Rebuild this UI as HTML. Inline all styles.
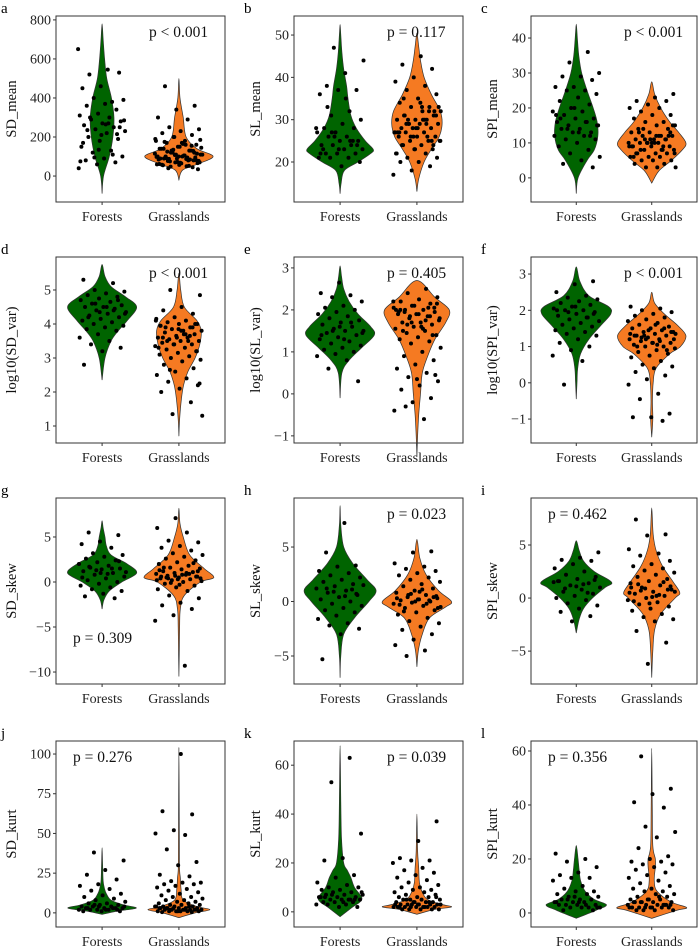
<!DOCTYPE html>
<html><head><meta charset="utf-8"><style>
html,body{margin:0;padding:0;background:#fff;}
svg{display:block;}
svg text{font-family:"Liberation Serif","Times New Roman",serif;}
</style></head><body>
<svg id="fig" width="700" height="948" viewBox="0 0 700 948" font-family="Liberation Serif, serif"></svg>
<script>
// ---------- data ----------
const groups=["Forests","Grasslands"];
// panel a SD_mean
const a_F_y=[-90,0,100,200,300,400,500,600,700,780];
const a_F_w=[0,0.04,0.2,0.3,0.33,0.26,0.13,0.07,0.03,0];
const a_G_y=[-20,30,60,100,140,200,300,400,500];
const a_G_w=[0,0.1,0.5,0.95,0.5,0.2,0.12,0.03,0];
const a_F_p=[650,545,520,530,460,450,380,400,390,370,360,340,320,310,300,290,280,270,260,250,240,230,220,200,190,180,150,130,120,100,90,80,70,60,40,270,300,250,210,170,110,95,285,265,235,215,135,75];
const a_G_p=[460,360,340,300,290,250,240,230,220,210,200,190,180,170,160,150,140,130,120,110,100,90,80,70,60,50,40,35,150,140,130,120,110,105,100,95,90,85,80,75,70,65,55,45,200,180,160,125,115,100,90,85,130,145,165,175,120,110,100,95,88,78,68,58,155,135,115,105,92,82,72,62,52,48,185,170,140,128,108,98,87,77,66,57];
// panel b SL_mean
const b_F_y=[12.5,15,18,20,22,23,25,28,31,35,38,42,46,50,52.5];
const b_F_w=[0,0.03,0.12,0.5,0.85,0.92,0.7,0.45,0.3,0.22,0.18,0.1,0.05,0.02,0];
const b_G_y=[13,16,20,23,26,29,32,36,40,44,48,50.5];
const b_G_w=[0,0.05,0.2,0.4,0.62,0.7,0.65,0.4,0.2,0.1,0.04,0];
const b_F_p=[47,44,41,38,37,37,36,32,31,30,29,28,28,27,27,26,26,25,25,24,24,24,23,23,22,22,22,21,21,21,20,19,23,25,26,28,35,33,24,23,22,25,27];
const b_G_p=[45,43,42,40,39,38,37,36,35,34,33,33,32,32,31,31,30,30,30,29,29,29,28,28,28,27,27,27,26,26,26,25,25,25,24,24,23,23,22,22,21,21,20,20,19,18,17,30,31,32,28,27,26,29,33,34,24,25,26,27,30,29,31,28,27,32,26,25,33,35,24,23,22,29,30];
// panel c SPI_mean
const c_F_y=[-4.5,0,5,8,12,16,20,25,30,35,40,44];
const c_F_w=[0,0.05,0.3,0.5,0.6,0.58,0.47,0.3,0.15,0.07,0.03,0];
const c_G_y=[-1.5,2,5,8,10,13,16,20,24,27.5];
const c_G_w=[0,0.2,0.55,0.85,0.95,0.75,0.5,0.25,0.08,0];
const c_F_p=[36,33,30,29,29,28,26,26,25,25,24,23,22,21,20,19,19,18,17,17,16,16,15,15,14,14,13,13,12,12,11,11,10,9,8,7,6,5,4,3,20,18,16,14,15,13,17,12];
const c_G_p=[24,23,22,22,21,20,20,19,18,18,17,16,16,15,15,14,14,13,13,12,12,12,11,11,11,10,10,10,10,9,9,9,8,8,8,7,7,7,6,6,6,5,5,5,4,4,3,3,3,13,12,11,9,8,14,15,10,7,11,10,9,12,8,13,10,6,9,11,7,12];
// panel d log10(SD_var)
const d_F_y=[2.35,3,3.5,3.8,4.1,4.5,4.8,5.1,5.4,5.75];
const d_F_w=[0,0.08,0.25,0.45,0.7,0.96,0.65,0.25,0.08,0];
const d_G_y=[0.7,1.2,1.8,2.2,2.6,3,3.4,3.8,4.1,4.5,5,5.5];
const d_G_w=[0,0.02,0.07,0.13,0.25,0.45,0.58,0.62,0.5,0.15,0.05,0];
const d_F_p=[5.3,5.2,5,4.95,4.9,4.85,4.8,4.75,4.7,4.65,4.6,4.55,4.5,4.5,4.45,4.4,4.35,4.3,4.25,4.2,4.15,4.1,4.05,4,3.95,3.9,3.85,3.8,3.7,3.6,3.5,3.4,3.3,3.2,2.8,4.4,4.6,4.3,4.5,4.2,4.7,4.35];
const d_G_p=[5,4.85,4.5,4.4,4.3,4.2,4.15,4.1,4.05,4,4,3.95,3.9,3.85,3.8,3.8,3.75,3.7,3.65,3.6,3.6,3.55,3.5,3.5,3.45,3.4,3.4,3.35,3.3,3.25,3.2,3.15,3.1,3.05,3,2.95,2.9,2.8,2.7,2.6,2.5,2.4,2.3,2.2,2.1,2,1.7,1.35,1.3,3.7,3.9,4,3.6,3.3,3.5,2.65,2.25,3.8,3.6,3.9,3.4,4.1,3.7,3.5,3.2,3.85,3.95,3.65];
// panel e log10(SL_var)
const e_F_y=[-0.1,0.5,0.8,1.1,1.4,1.6,1.9,2.2,2.5,2.8,3.05];
const e_F_w=[0,0.05,0.25,0.6,0.95,0.85,0.5,0.25,0.1,0.04,0];
const e_G_y=[-1.5,-1,-0.5,0,0.5,0.9,1.3,1.7,2,2.3,2.7];
const e_G_w=[0,0.02,0.05,0.1,0.15,0.3,0.5,0.8,0.9,0.5,0];
const e_F_p=[2.65,2.4,2.35,2.3,2.2,2.1,2.05,2,1.95,1.9,1.85,1.8,1.75,1.7,1.65,1.6,1.55,1.5,1.5,1.45,1.4,1.35,1.3,1.25,1.2,1.15,1.1,1.05,1,0.95,0.9,0.8,0.6,0.3,1.6,1.4,1.7,1.5,1.45,1.3];
const e_G_p=[2.5,2.4,2.3,2.25,2.2,2.15,2.1,2.05,2,2,1.95,1.9,1.9,1.85,1.8,1.75,1.7,1.7,1.65,1.6,1.55,1.5,1.45,1.4,1.35,1.3,1.25,1.2,1.1,1,0.9,0.8,0.7,0.6,0.5,0.4,0.3,0.2,0.1,-0.1,-0.2,-0.4,-0.6,-0.3,0.45,0.35,1.95,2.05,1.85,1.8,1.6,1.5,1.4,2.1,2,1.75,1.65,2.15,1.9,2.0,1.85,1.7,2.2,1.55,1.95,2.05];
// panel f log10(SPI_var)
const f_F_y=[-0.45,0,0.4,0.8,1.2,1.6,1.9,2.1,2.4,2.8,3.2];
const f_F_w=[0,0.02,0.04,0.12,0.35,0.7,0.96,0.9,0.35,0.1,0];
const f_G_y=[-1.5,-1,-0.5,0,0.4,0.8,1,1.3,1.6,1.9,2.2,2.5];
const f_G_w=[0,0.03,0.02,0.04,0.12,0.5,0.8,0.95,0.7,0.35,0.08,0];
const f_F_p=[2.8,2.72,2.5,2.4,2.35,2.3,2.25,2.2,2.15,2.1,2.05,2,2,1.95,1.9,1.85,1.8,1.75,1.7,1.65,1.6,1.55,1.5,1.45,1.4,1.35,1.3,1.2,1.1,1,0.9,0.75,0.6,-0.05,1.9,2.1,2.0,1.8,1.95];
const f_G_p=[2.1,2.05,2,1.95,1.9,1.85,1.8,1.75,1.7,1.65,1.6,1.55,1.5,1.5,1.45,1.4,1.4,1.35,1.3,1.3,1.25,1.2,1.2,1.15,1.1,1.1,1.05,1,1,0.95,0.9,0.85,0.8,0.75,0.7,0.6,0.5,0.45,0.4,0.3,0.2,0.1,-0.05,-0.3,-0.45,-0.85,-0.95,-0.95,-1.05,1.3,1.2,1.6,1.0,0.9,1.45,1.35,1.15,1.25,1.4,1.1,1.3,1.5,1.2,1.35,1.05];
// panel g SD_skew
const g_F_y=[-3,-2,-1,0,1,2,3,4,5,6,6.8];
const g_F_w=[0,0.05,0.2,0.55,0.96,0.7,0.25,0.12,0.08,0.03,0];
const g_G_y=[-10.5,-8,-5,-3,-1.5,0,0.5,1.5,3,5,6.5,8.2];
const g_G_w=[0,0.01,0.02,0.04,0.15,0.6,0.97,0.7,0.3,0.12,0.03,0];
const g_F_p=[5.5,5.2,4.5,4.2,3.8,3.2,3,2.8,2.6,2.4,2.2,2,1.8,1.6,1.5,1.4,1.2,1,0.8,0.6,0.4,0.2,0,-0.2,-0.4,-0.6,-0.8,-1,-1.3,-1.6,-1.8,1.3,1.1,0.9,1.7,2.3,1.0,0.5,1.5];
const g_G_p=[7.1,6,5.5,4.6,4.4,4,3.8,3.5,3.2,3,2.8,2.6,2.4,2.2,2,1.8,1.6,1.5,1.4,1.2,1.1,1,0.9,0.8,0.7,0.6,0.5,0.4,0.3,0.2,0.1,0,-0.2,-0.4,-0.6,-0.8,-1,-1.5,-1.8,-2.3,-2.6,-3,-3.7,-4.3,-9.3,0.5,0.6,0.3,1.3,0.9,-0.1,0.4,0.8,1.6,2.1,0.7,0.2,1.0,0.4,1.2,-0.3,0.6];
// panel h SL_skew
const h_F_y=[-7,-5,-3,-1.5,0,1,2,3.5,5,7,8.8];
const h_F_w=[0,0.02,0.1,0.4,0.8,1.0,0.75,0.35,0.1,0.02,0];
const h_G_y=[-6,-4.5,-3,-1.5,-0.5,0,1,2.5,4,5.7];
const h_G_w=[0,0.04,0.15,0.35,0.8,0.96,0.6,0.25,0.08,0];
const h_F_p=[7.2,4.5,3.3,3.2,2.8,2.6,2.4,2.2,2,1.8,1.6,1.4,1.2,1,0.8,0.6,0.4,0.2,0,-0.2,-0.4,-0.6,-0.8,-1,-1.3,-1.6,-2,-2.2,-2.5,-3,-5.3,1.1,0.9,1.5,0.5,1.2,0.7];
const h_G_p=[4.6,4.5,3.5,3.2,3,2.8,2.6,2.4,2.2,2,1.8,1.6,1.4,1.2,1,0.8,0.6,0.4,0.3,0.2,0.1,0,-0.1,-0.2,-0.4,-0.6,-0.8,-1,-1.2,-1.5,-1.8,-2,-2.3,-2.6,-3,-3.5,-4,-4.5,-5,0.5,0.2,-0.3,0.1,0.7,-0.5,1.1,-0.9,0.4,0.0,0.3,-0.2,0.6,-0.6,0.9];
// panel i SPI_skew
const i_F_y=[-3.3,-2,-1,0,1,1.5,2.5,3.5,4.5,5.4];
const i_F_w=[0,0.08,0.2,0.45,0.8,0.98,0.5,0.2,0.08,0];
const i_G_y=[-7.5,-5,-3,-1.5,0,0.5,1.5,3,4.5,6,8.5];
const i_G_w=[0,0.03,0.08,0.25,0.65,0.78,0.6,0.3,0.12,0.04,0];
const i_F_p=[4.3,3.8,3.6,3.5,3.2,2.8,2.5,2.2,2,1.8,1.6,1.4,1.2,1,0.8,0.6,0.4,0.2,0,-0.2,-0.5,-0.7,-1,-1.3,-1.7,-2.2,1.5,1.3,0.9,1.7,1.1,1.6,0.5];
const i_G_p=[7.4,6,5.9,4.6,4.2,4,3.5,3.2,3,2.8,2.6,2.4,2.2,2,1.8,1.6,1.4,1.2,1,0.8,0.6,0.4,0.2,0,-0.2,-0.4,-0.6,-0.8,-1,-1.2,-1.5,-1.8,-2,-2.2,-3.1,-4.2,-6.2,0.5,0.3,0.7,1.1,0.1,-0.3,1.5,0.9,0.6,0.2,1.3,0.8,-0.5,1.0];
// panel j SD_kurt
const j_F_y=[-1,1,3,5,8,12,15,20,30,41];
const j_F_w=[0,0.4,0.95,0.6,0.25,0.12,0.07,0.03,0.015,0];
const j_G_y=[-3,0,2,4,8,15,22,30,60,104];
const j_G_w=[0,0.45,0.86,0.5,0.12,0.06,0.04,0.015,0.01,0];
const j_F_p=[38,33,27,24,21,18,17,15,14,12,11,10,9,8,7,6,6,5,5,4,4,4,3,3,3,3,2,2,2,2,1,1,1,3,5,4,2,3,2,4];
const j_G_p=[100,64,62,52,50,49,40,32,30,24,23,20,19,19,18,18,17,16,15,14,13,12,11,10,10,9,8,8,7,7,6,6,5,5,5,4,4,4,4,3,3,3,3,3,2,2,2,2,2,2,1,1,1,1,1,1,0.5,0.5,3,4,2,3,2,1,3,4,2];
// panel k SL_kurt
const k_F_y=[-2,2,4,6,10,14,17,20,30,45,68];
const k_F_w=[0,0.35,0.55,0.6,0.4,0.3,0.2,0.1,0.04,0.02,0];
const k_G_y=[-1,1,2,3,5,8,12,18,25,40];
const k_G_w=[0,0.5,0.96,0.7,0.3,0.15,0.07,0.05,0.02,0];
const k_F_p=[63,53,32,22,21,15,14,12,11,10,10,9,9,8,8,7,7,7,6,6,6,5,5,5,5,4,4,4,3,3,3,2,2,6,5,7,8,4,6,5];
const k_G_p=[37,29,22,21,21,20,18,17,16,15,14,13,12,11,10,10,9,9,8,8,7,7,6,6,6,5,5,5,5,4,4,4,4,3,3,3,3,3,3,2,2,2,2,2,2,2,1,1,1,1,1,4,3,2,5,6,3,2,4,2,3];
// panel l SPI_kurt
const l_F_y=[-2,1,3,5,8,12,16,20,25];
const l_F_w=[0,0.55,0.84,0.5,0.25,0.12,0.08,0.05,0];
const l_G_y=[-2,1,2,4,8,12,17,20,25,40,61];
const l_G_w=[0,0.7,0.97,0.55,0.15,0.07,0.1,0.1,0.03,0.015,0];
const l_F_p=[22,20,19,17,15,14,13,13,12,10,9,8,8,7,7,6,6,5,5,5,4,4,4,3,3,3,3,2,2,2,2,1,1,6,4,3,5,2,4];
const l_G_p=[58,46,44,41,39,32,30,28,24,21,20,19,19,18,18,17,16,15,14,13,12,11,10,9,9,8,8,7,7,6,6,5,5,5,4,4,4,4,3,3,3,3,2,2,2,2,2,1,1,1,1,3,5,2,6,4,3,2,4,3,2];
// titles, p-values, ticks, y-domains
const titles=["SD_mean","SL_mean","SPI_mean","log10(SD_var)","log10(SL_var)","log10(SPI_var)","SD_skew","SL_skew","SPI_skew","SD_kurt","SL_kurt","SPI_kurt"];
const pvals=["p < 0.001","p = 0.117","p < 0.001","p < 0.001","p = 0.405","p < 0.001","p = 0.309","p = 0.023","p = 0.462","p = 0.276","p = 0.039","p = 0.356"];
const ticks=[[0,200,400,600,800],[20,30,40,50],[0,10,20,30,40],[1,2,3,4,5],[-1,0,1,2,3],[-1,0,1,2,3],[-10,-5,0,5],[-5,0,5],[-5,0,5],[0,25,50,75,100],[0,20,40,60],[0,20,40,60]];
const ydom=[[-133,820],[10.55,54.5],[-6.9,46.3],[0.5,5.97],[-1.17,3.26],[-1.66,3.47],[-11.33,9.33],[-7.57,9.5],[-8.1,9.43],[-8.9,108.2],[-6.2,69.9],[-5.2,63.7]];
const letters=["a","b","c","d","e","f","g","h","i","j","k","l"];
const shapes=[[a_F_y,a_F_w,a_G_y,a_G_w],[b_F_y,b_F_w,b_G_y,b_G_w],[c_F_y,c_F_w,c_G_y,c_G_w],[d_F_y,d_F_w,d_G_y,d_G_w],[e_F_y,e_F_w,e_G_y,e_G_w],[f_F_y,f_F_w,f_G_y,f_G_w],[g_F_y,g_F_w,g_G_y,g_G_w],[h_F_y,h_F_w,h_G_y,h_G_w],[i_F_y,i_F_w,i_G_y,i_G_w],[j_F_y,j_F_w,j_G_y,j_G_w],[k_F_y,k_F_w,k_G_y,k_G_w],[l_F_y,l_F_w,l_G_y,l_G_w]];
const points=[[a_F_p,a_G_p],[b_F_p,b_G_p],[c_F_p,c_G_p],[d_F_p,d_G_p],[e_F_p,e_G_p],[f_F_p,f_G_p],[g_F_p,g_G_p],[h_F_p,h_G_p],[i_F_p,i_G_p],[j_F_p,j_G_p],[k_F_p,k_G_p],[l_F_p,l_G_p]];

// ---------- layout ----------
const NS="http://www.w3.org/2000/svg";
const svg=document.getElementById("fig");
const colL=[56,294,531], colW=[169,169,166], rowT=[16,257,498,741], PH=186;
const pLeftPanels=[6,8,9,11];
const pYoff={6:145};
const fills=["#006400","#f57a22"];
const FF="Liberation Serif, Times New Roman, serif";
function mk(tag,attrs,parent){const e=document.createElementNS(NS,tag);for(const k in attrs)e.setAttribute(k,attrs[k]);if(tag==="text")e.setAttribute("font-family",FF);(parent||svg).appendChild(e);return e;}
function fmt(v){return v<0?"\u2212"+Math.abs(v):String(v);}
function catmull(pts){
  let d="M"+pts[0][0].toFixed(2)+","+pts[0][1].toFixed(2);
  for(let i=0;i<pts.length-1;i++){
    const p0=pts[Math.max(0,i-1)],p1=pts[i],p2=pts[i+1],p3=pts[Math.min(pts.length-1,i+2)];
    const c1=[p1[0]+(p2[0]-p0[0])/6,p1[1]+(p2[1]-p0[1])/6];
    const c2=[p2[0]-(p3[0]-p1[0])/6,p2[1]-(p3[1]-p1[1])/6];
    d+="C"+c1[0].toFixed(2)+","+c1[1].toFixed(2)+" "+c2[0].toFixed(2)+","+c2[1].toFixed(2)+" "+p2[0].toFixed(2)+","+p2[1].toFixed(2);
  }
  return d+"Z";
}
for(let p=0;p<12;p++){
  const col=p%3,row=Math.floor(p/3);
  const L=colL[col],T=rowT[row],W=colW[col],B=T+PH;
  const [y0,y1]=ydom[p];
  const yS=v=>B-(v-y0)/(y1-y0)*PH;
  const xS=g=>L+W*(0.6+g)/2.2;
  const g=mk("g",{},svg);
  
  
  const lt=mk("text",{x:col===0?1:L-50,y:T-3,"font-size":"15"},g);
  
  
  lt.textContent=letters[p];
  for(let k=0;k<2;k++){
    const ys=shapes[p][2*k],ws=shapes[p][2*k+1],cx=xS(k);
    const right=ys.map((v,i)=>[cx+ws[i]*36,yS(v)]);
    const left=ys.map((v,i)=>[cx-ws[i]*36,yS(v)]).reverse();
    const path=mk("path",{d:catmull(right.concat(left.slice(1))),fill:fills[k],stroke:"#333","stroke-width":"0.7"},g);
    
    
  }
  for(let k=0;k<2;k++){
    const arr=points[p][k],cx=xS(k);
    arr.forEach((v,i)=>{
      const jit=(((i*0.618034+p*0.37+k*0.21)%1)-0.5)*48;
      const c=mk("circle",{cx:(cx+jit).toFixed(2),cy:yS(v).toFixed(2),r:"2",fill:"#000"},g);
      
      
    });
  }
  const fr=mk("rect",{x:L,y:T,width:W,height:PH,fill:"none",stroke:"#333","stroke-width":"1"},g);
  
  
  ticks[p].forEach(t=>{
    const y=yS(t);
    mk("line",{x1:L-3,x2:L,y1:y,y2:y,stroke:"#333","stroke-width":"1"},g);
    const tx=mk("text",{x:L-5,y:y+4.5,"text-anchor":"end","font-size":"14",fill:"#222"},g);
    
    
    tx.textContent=fmt(t);
  });
  groups.forEach((name,k)=>{
    const x=xS(k);
    mk("line",{x1:x,x2:x,y1:B,y2:B+3,stroke:"#333","stroke-width":"1"},g);
    const tx=mk("text",{x:x,y:B+19,"text-anchor":"middle","font-size":"14",fill:"#222"},g);
    
    
    tx.textContent=name;
  });
  const tx0=col===0?16:L-34, ty0=T+PH/2;
  const yt=mk("text",{x:tx0,y:ty0,"text-anchor":"middle","font-size":"14.5",transform:"rotate(-90 "+tx0+" "+ty0+")",fill:"#111"},g);
  
  
  yt.textContent=titles[p];
  const isLeft=pLeftPanels.includes(p);
  const pt=mk("text",{x:isLeft?L+17:L+93,y:T+(pYoff[p]!==undefined?pYoff[p]:21),"font-size":"15.5",fill:"#111"},g);
  
  
  pt.textContent=pvals[p];
}
</script>
</body></html>
